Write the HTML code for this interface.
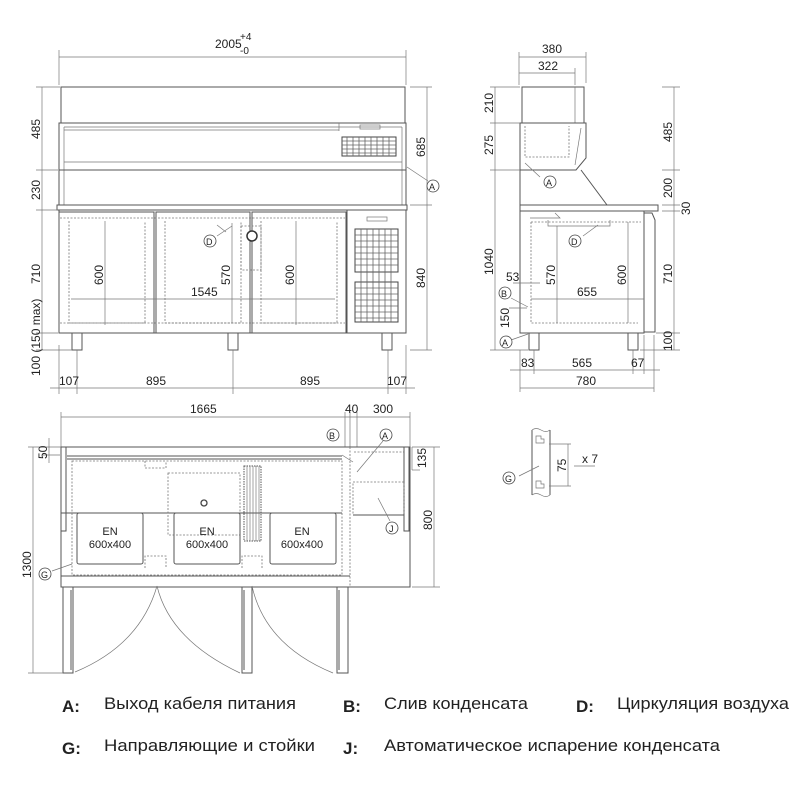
<!DOCTYPE html>
<html><head><meta charset="utf-8"><style>
html,body{margin:0;padding:0;background:#fff;width:800px;height:800px;overflow:hidden}
svg{display:block}
text{font-family:"Liberation Sans",sans-serif;fill:#222}
.d{font-size:12px}
.l{stroke:#555;stroke-width:1;fill:none}
.t{stroke:#777;stroke-width:0.7;fill:none}
.ds{stroke:#777;stroke-width:0.8;fill:none;stroke-dasharray:2 1.5}
.c{stroke:#444;stroke-width:0.8;fill:#fff}
.g{font-size:17px;font-weight:bold}
.n{font-size:17px}
</style></head><body>
<svg width="800" height="800" viewBox="0 0 800 800">
<!-- ============ FRONT VIEW ============ -->
<!-- top dim -->
<line class="t" x1="59" y1="57" x2="406" y2="57"/>
<line class="t" x1="59" y1="50" x2="59" y2="85"/><line class="t" x1="406" y1="50" x2="406" y2="85"/>
<text class="d" x="215" y="48">2005</text><text x="240" y="40" style="font-size:10px">+4</text><text x="240" y="54" style="font-size:10px">-0</text>
<!-- glass top -->
<rect class="l" x="61" y="87" width="344" height="36"/>
<!-- upper body -->
<rect class="l" x="59" y="123" width="347" height="47"/>
<line class="t" x1="64" y1="127" x2="402" y2="127"/>
<line class="t" x1="64" y1="130" x2="339" y2="130"/>
<line class="t" x1="64" y1="127" x2="64" y2="205"/><line class="t" x1="402" y1="127" x2="402" y2="205"/>
<line class="t" x1="339" y1="123" x2="339" y2="131"/>
<rect class="t" x="360" y="125" width="20" height="4"/>
<line class="t" x1="64" y1="162" x2="402" y2="162"/>
<rect x="342" y="137" width="54" height="19" fill="#fff" stroke="#444" stroke-width="1"/>
<g stroke="#666" stroke-width="0.8">
<line x1="342" y1="141" x2="396" y2="141"/><line x1="342" y1="145" x2="396" y2="145"/><line x1="342" y1="149" x2="396" y2="149"/><line x1="342" y1="153" x2="396" y2="153"/>
<line x1="347" y1="137" x2="347" y2="156"/><line x1="353" y1="137" x2="353" y2="156"/><line x1="359" y1="137" x2="359" y2="156"/><line x1="365" y1="137" x2="365" y2="156"/><line x1="371" y1="137" x2="371" y2="156"/><line x1="377" y1="137" x2="377" y2="156"/><line x1="383" y1="137" x2="383" y2="156"/><line x1="389" y1="137" x2="389" y2="156"/>
</g>
<rect class="l" x="59" y="170" width="347" height="35"/>
<rect class="l" x="57" y="205" width="350" height="5"/>
<!-- lower body -->
<rect class="l" x="59" y="210" width="347" height="123"/>
<rect class="l" x="59" y="212" width="95" height="121"/>
<rect class="l" x="156" y="212" width="94" height="121"/>
<rect class="l" x="252" y="212" width="94" height="121"/>
<rect class="l" x="347" y="210" width="59" height="123"/>
<rect class="t" x="367" y="217" width="20" height="4"/>
<g>
<rect x="355" y="229" width="43" height="43" fill="#fff" stroke="#444"/>
<rect x="355" y="282" width="43" height="40" fill="#fff" stroke="#444"/>
<g stroke="#666" stroke-width="0.8">
<line x1="355" y1="235" x2="398" y2="235"/><line x1="355" y1="241" x2="398" y2="241"/><line x1="355" y1="247" x2="398" y2="247"/><line x1="355" y1="253" x2="398" y2="253"/><line x1="355" y1="259" x2="398" y2="259"/><line x1="355" y1="265" x2="398" y2="265"/>
<line x1="355" y1="288" x2="398" y2="288"/><line x1="355" y1="294" x2="398" y2="294"/><line x1="355" y1="300" x2="398" y2="300"/><line x1="355" y1="306" x2="398" y2="306"/><line x1="355" y1="312" x2="398" y2="312"/><line x1="355" y1="318" x2="398" y2="318"/>
<line x1="361" y1="229" x2="361" y2="322"/><line x1="367" y1="229" x2="367" y2="322"/><line x1="373" y1="229" x2="373" y2="322"/><line x1="379" y1="229" x2="379" y2="322"/><line x1="385" y1="229" x2="385" y2="322"/><line x1="391" y1="229" x2="391" y2="322"/>
</g></g>
<!-- dashed pans -->
<path class="ds" d="M69 221 V323 H145 V221"/><path class="ds" d="M165 221 V323 H241 V221"/><path class="ds" d="M261 221 V323 H337 V221"/>
<line class="ds" x1="60" y1="218" x2="345" y2="218"/>
<line class="ds" x1="60" y1="323" x2="345" y2="323"/>
<rect class="ds" x="241" y="226" width="20" height="44"/>
<circle cx="252" cy="236" r="5" fill="#fff" stroke="#333" stroke-width="1.5"/>
<!-- inner dims -->
<line class="t" x1="105" y1="221" x2="105" y2="325"/><text class="d" transform="translate(103,285) rotate(-90)">600</text>
<line class="t" x1="296" y1="221" x2="296" y2="325"/><text class="d" transform="translate(294,285) rotate(-90)">600</text>
<line class="t" x1="232" y1="223" x2="232" y2="323"/><text class="d" transform="translate(230,285) rotate(-90)">570</text>
<line class="t" x1="71" y1="299" x2="335" y2="299"/><text class="d" x="191" y="296">1545</text>
<line class="t" x1="217" y1="225" x2="226" y2="232" /><line class="t" x1="232" y1="226" x2="217" y2="236"/>
<circle class="c" cx="210" cy="241" r="6"/><text x="206" y="245" style="font-size:9px">D</text>
<!-- legs -->
<rect class="l" x="72" y="333" width="10" height="17"/><rect class="l" x="228" y="333" width="10" height="17"/><rect class="l" x="382" y="333" width="10" height="17"/>
<!-- left dims -->
<line class="t" x1="42" y1="87" x2="42" y2="350"/>
<g class="t"><line x1="36" y1="87" x2="60" y2="87"/><line x1="36" y1="170" x2="58" y2="170"/><line x1="36" y1="210" x2="58" y2="210"/><line x1="36" y1="333" x2="58" y2="333"/><line x1="36" y1="350" x2="72" y2="350"/></g>
<text class="d" transform="translate(40,139) rotate(-90)">485</text>
<text class="d" transform="translate(40,200) rotate(-90)">230</text>
<text class="d" transform="translate(40,284) rotate(-90)">710</text>
<text class="d" transform="translate(40,376) rotate(-90)">100 (150 max)</text>
<!-- right dims -->
<line class="t" x1="427" y1="87" x2="427" y2="350"/>
<g class="t"><line x1="410" y1="87" x2="432" y2="87"/><line x1="410" y1="205" x2="432" y2="205"/><line x1="410" y1="350" x2="432" y2="350"/></g>
<text class="d" transform="translate(425,157) rotate(-90)">685</text>
<text class="d" transform="translate(425,288) rotate(-90)">840</text>
<line class="t" x1="407" y1="167" x2="428" y2="181"/>
<circle class="c" cx="433" cy="186" r="6"/><text x="429" y="190" style="font-size:9px">A</text>
<!-- bottom dims -->
<line class="t" x1="50" y1="388" x2="415" y2="388"/>
<g class="t"><line x1="59" y1="345" x2="59" y2="394"/><line x1="77" y1="350" x2="77" y2="394"/><line x1="233" y1="350" x2="233" y2="394"/><line x1="388" y1="350" x2="388" y2="394"/><line x1="406" y1="345" x2="406" y2="394"/></g>
<text class="d" x="59" y="385">107</text><text class="d" x="146" y="385">895</text><text class="d" x="300" y="385">895</text><text class="d" x="387" y="385">107</text>

<!-- ============ SIDE VIEW ============ -->
<line class="t" x1="519" y1="57" x2="586" y2="57"/><line class="t" x1="519" y1="73" x2="575" y2="73"/>
<g class="t"><line x1="519" y1="52" x2="519" y2="85"/><line x1="586" y1="52" x2="586" y2="83"/><line x1="575" y1="68" x2="575" y2="85"/></g>
<text class="d" x="542" y="53">380</text><text class="d" x="538" y="70">322</text>
<rect class="l" x="522" y="87" width="62" height="36"/>
<line class="t" x1="575" y1="87" x2="575" y2="123"/>
<path class="l" d="M520 123 H586 V158 L576 170 H520 Z"/>
<path class="ds" d="M525 126 V157 H569 V126"/>
<line class="t" x1="581" y1="128" x2="575" y2="165"/>
<path class="l" d="M581 170 L607 205"/>
<line class="l" x1="520" y1="170" x2="520" y2="333"/>
<rect class="l" x="520" y="205" width="138" height="6"/>
<rect class="l" x="520" y="211" width="124" height="122"/>
<path class="l" d="M644 213 H652 L655 220 V332 H644"/>
<path class="ds" d="M531 222 H641 M531 222 V323 H638"/>
<path class="t" d="M548 220 V226 H610 V220"/>
<path class="t" d="M530 218 H560 L555 213"/>
<rect class="l" x="529" y="333" width="10" height="17"/><rect class="l" x="628" y="333" width="10" height="17"/>
<line class="t" x1="557" y1="226" x2="557" y2="323"/><text class="d" transform="translate(555,285) rotate(-90)">570</text>
<line class="t" x1="628" y1="222" x2="628" y2="323"/><text class="d" transform="translate(626,285) rotate(-90)">600</text>
<line class="t" x1="531" y1="299" x2="644" y2="299"/><text class="d" x="577" y="296">655</text>
<line class="t" x1="513" y1="283" x2="540" y2="283"/><text class="d" x="506" y="281">53</text>
<line class="t" x1="525" y1="163" x2="540" y2="177"/><circle class="c" cx="550" cy="182" r="6"/><text x="546" y="186" style="font-size:9px">A</text>
<line class="t" x1="598" y1="225" x2="583" y2="236"/><circle class="c" cx="575" cy="241" r="6"/><text x="571" y="245" style="font-size:9px">D</text>
<line class="t" x1="511" y1="298" x2="528" y2="307"/><circle class="c" cx="505" cy="293" r="6"/><text x="501" y="297" style="font-size:9px">B</text>
<line class="t" x1="511" y1="340" x2="528" y2="334"/><circle class="c" cx="506" cy="342" r="6"/><text x="502" y="346" style="font-size:9px">A</text>
<line class="t" x1="509" y1="308" x2="527" y2="308"/>
<line class="t" x1="495" y1="87" x2="495" y2="350"/>
<g class="t"><line x1="490" y1="87" x2="520" y2="87"/><line x1="490" y1="123" x2="520" y2="123"/><line x1="490" y1="170" x2="520" y2="170"/><line x1="490" y1="350" x2="528" y2="350"/></g>
<text class="d" transform="translate(493,113) rotate(-90)">210</text>
<text class="d" transform="translate(493,155) rotate(-90)">275</text>
<text class="d" transform="translate(493,275) rotate(-90)">1040</text>
<text class="d" transform="translate(509,328) rotate(-90)">150</text>
<line class="t" x1="674" y1="87" x2="674" y2="350"/>
<g class="t"><line x1="662" y1="87" x2="680" y2="87"/><line x1="662" y1="170" x2="680" y2="170"/><line x1="662" y1="205" x2="680" y2="205"/><line x1="662" y1="211" x2="680" y2="211"/><line x1="656" y1="333" x2="680" y2="333"/><line x1="640" y1="350" x2="680" y2="350"/></g>
<text class="d" transform="translate(672,142) rotate(-90)">485</text>
<text class="d" transform="translate(672,198) rotate(-90)">200</text>
<text class="d" transform="translate(690,215) rotate(-90)">30</text>
<text class="d" transform="translate(672,284) rotate(-90)">710</text>
<text class="d" transform="translate(672,351) rotate(-90)">100</text>
<line class="t" x1="510" y1="370" x2="660" y2="370"/><line class="t" x1="520" y1="388" x2="654" y2="388"/>
<g class="t"><line x1="520" y1="350" x2="520" y2="392"/><line x1="534" y1="350" x2="534" y2="374"/><line x1="633" y1="350" x2="633" y2="374"/><line x1="644" y1="335" x2="644" y2="374"/><line x1="654" y1="335" x2="654" y2="392"/></g>
<text class="d" x="521" y="367">83</text><text class="d" x="572" y="367">565</text><text class="d" x="631" y="367">67</text><text class="d" x="576" y="385">780</text>

<!-- ============ PLAN VIEW ============ -->
<line class="t" x1="61" y1="417" x2="410" y2="417"/>
<g class="t"><line x1="61" y1="412" x2="61" y2="447"/><line x1="345" y1="412" x2="345" y2="447"/><line x1="350" y1="412" x2="350" y2="447"/><line x1="357" y1="412" x2="357" y2="447"/><line x1="410" y1="412" x2="410" y2="447"/></g>
<text class="d" x="190" y="413">1665</text><text class="d" x="345" y="413">40</text><text class="d" x="373" y="413">300</text>
<rect class="l" x="61" y="447" width="349" height="140"/>
<rect class="l" x="61" y="447" width="5" height="84"/><rect class="l" x="404" y="447" width="5" height="84"/>
<line class="l" x1="67" y1="456" x2="342" y2="456"/><line class="l" x1="67" y1="459" x2="342" y2="459"/>
<line class="l" x1="61" y1="513" x2="342" y2="513"/>
<line class="l" x1="61" y1="576" x2="350" y2="576"/>
<line class="ds" x1="350" y1="447" x2="350" y2="587"/>
<rect class="ds" x="72" y="461" width="270" height="114"/>
<path class="ds" d="M145 461 V468 H166 V461 M145 568 V556 H166 V568 M242 568 V556 H262 V568"/>
<rect class="ds" x="168" y="473" width="72" height="62"/>
<circle cx="204" cy="503" r="3" fill="none" stroke="#444" stroke-width="1.3"/>
<rect x="244" y="466" width="17" height="75" fill="none" stroke="#555" stroke-width="1" stroke-dasharray="1.5 1"/>
<g stroke="#666" stroke-width="0.6"><line x1="247" y1="466" x2="247" y2="541"/><line x1="250" y1="466" x2="250" y2="541"/><line x1="253" y1="466" x2="253" y2="541"/><line x1="256" y1="466" x2="256" y2="541"/><line x1="259" y1="466" x2="259" y2="541"/></g>
<rect class="l" x="77" y="513" width="66" height="51" rx="2"/><rect class="l" x="174" y="513" width="66" height="51" rx="2"/><rect class="l" x="270" y="513" width="66" height="51" rx="2"/>
<g style="font-size:11px" text-anchor="middle"><text x="110" y="535">EN</text><text x="110" y="548">600x400</text><text x="207" y="535">EN</text><text x="207" y="548">600x400</text><text x="302" y="535">EN</text><text x="302" y="548">600x400</text></g>
<rect class="ds" x="353" y="482" width="51" height="33"/>
<line class="l" x1="353" y1="515" x2="404" y2="515"/>
<line class="ds" x1="354" y1="452" x2="404" y2="452"/>
<line class="t" x1="342" y1="455" x2="353" y2="462"/><circle class="c" cx="333" cy="435" r="6"/><text x="329" y="439" style="font-size:9px">B</text>
<line class="t" x1="383" y1="441" x2="357" y2="472"/><circle class="c" cx="386" cy="435" r="6"/><text x="382" y="439" style="font-size:9px">A</text>
<line class="t" x1="378" y1="498" x2="390" y2="521"/><circle class="c" cx="392" cy="528" r="6"/><text x="389" y="532" style="font-size:9px">J</text>
<line class="t" x1="72" y1="564" x2="52" y2="571"/><circle class="c" cx="45" cy="574" r="6"/><text x="41" y="578" style="font-size:9px">G</text>
<!-- doors -->
<rect class="l" x="63" y="587" width="10" height="86"/><rect class="l" x="242" y="587" width="10" height="86"/><rect class="l" x="337" y="587" width="11" height="86"/>
<line class="l" x1="71" y1="590" x2="71" y2="670" stroke-width="1.5"/><line class="l" x1="244" y1="590" x2="244" y2="670" stroke-width="1.5"/><line class="l" x1="339" y1="590" x2="339" y2="670" stroke-width="1.5"/>
<path class="t" d="M157 586 Q170 640 240 673 M157 586 Q140 645 75 672 M252 586 Q265 645 333 673"/>
<!-- plan dims -->
<line class="t" x1="33" y1="447" x2="33" y2="673"/>
<g class="t"><line x1="28" y1="447" x2="61" y2="447"/><line x1="28" y1="673" x2="63" y2="673"/><line x1="43" y1="455" x2="60" y2="455"/><line x1="49" y1="438" x2="49" y2="463"/></g>
<text class="d" transform="translate(31,578) rotate(-90)">1300</text>
<text class="d" transform="translate(47,459) rotate(-90)">50</text>
<line class="t" x1="434" y1="447" x2="434" y2="587"/>
<g class="t"><line x1="412" y1="447" x2="440" y2="447"/><line x1="412" y1="587" x2="440" y2="587"/><line x1="412" y1="470" x2="420" y2="470"/><line x1="412" y1="447" x2="412" y2="470"/></g>
<text class="d" transform="translate(432,530) rotate(-90)">800</text>
<text class="d" transform="translate(426,468) rotate(-90)">135</text>

<!-- ============ DETAIL G ============ -->
<path class="l" d="M532 430 V495 M550 430 V495"/>
<path class="t" d="M532 430 q4 -3 9 0 t9 0 M532 495 q4 -3 9 0 t9 0"/>
<path class="t" d="M536 436 h5 v3 h3 v4 h-8 z M536 481 h5 v3 h3 v4 h-8 z"/>
<line class="t" x1="549" y1="444" x2="571" y2="444"/><line class="t" x1="549" y1="486" x2="571" y2="486"/>
<line class="t" x1="568" y1="444" x2="568" y2="486"/>
<text class="d" transform="translate(566,472) rotate(-90)">75</text>
<line class="t" x1="574" y1="466" x2="595" y2="466"/><text class="d" x="582" y="463">x 7</text>
<line class="t" x1="519" y1="476" x2="539" y2="466"/>
<circle class="c" cx="509" cy="478" r="6"/><text x="505" y="482" style="font-size:9px">G</text>

<!-- ============ LEGEND ============ -->
<text class="g" x="62" y="712">A:</text><text class="n" x="104" y="709" textLength="192" lengthAdjust="spacingAndGlyphs">Выход кабеля питания</text>
<text class="g" x="343" y="712">B:</text><text class="n" x="384" y="709" textLength="144" lengthAdjust="spacingAndGlyphs">Слив конденсата</text>
<text class="g" x="576" y="712">D:</text><text class="n" x="617" y="709" textLength="172" lengthAdjust="spacingAndGlyphs">Циркуляция воздуха</text>
<text class="g" x="62" y="754">G:</text><text class="n" x="104" y="751" textLength="211" lengthAdjust="spacingAndGlyphs">Направляющие и стойки</text>
<text class="g" x="343" y="754">J:</text><text class="n" x="384" y="751" textLength="336" lengthAdjust="spacingAndGlyphs">Автоматическое испарение конденсата</text>
</svg>
</body></html>
